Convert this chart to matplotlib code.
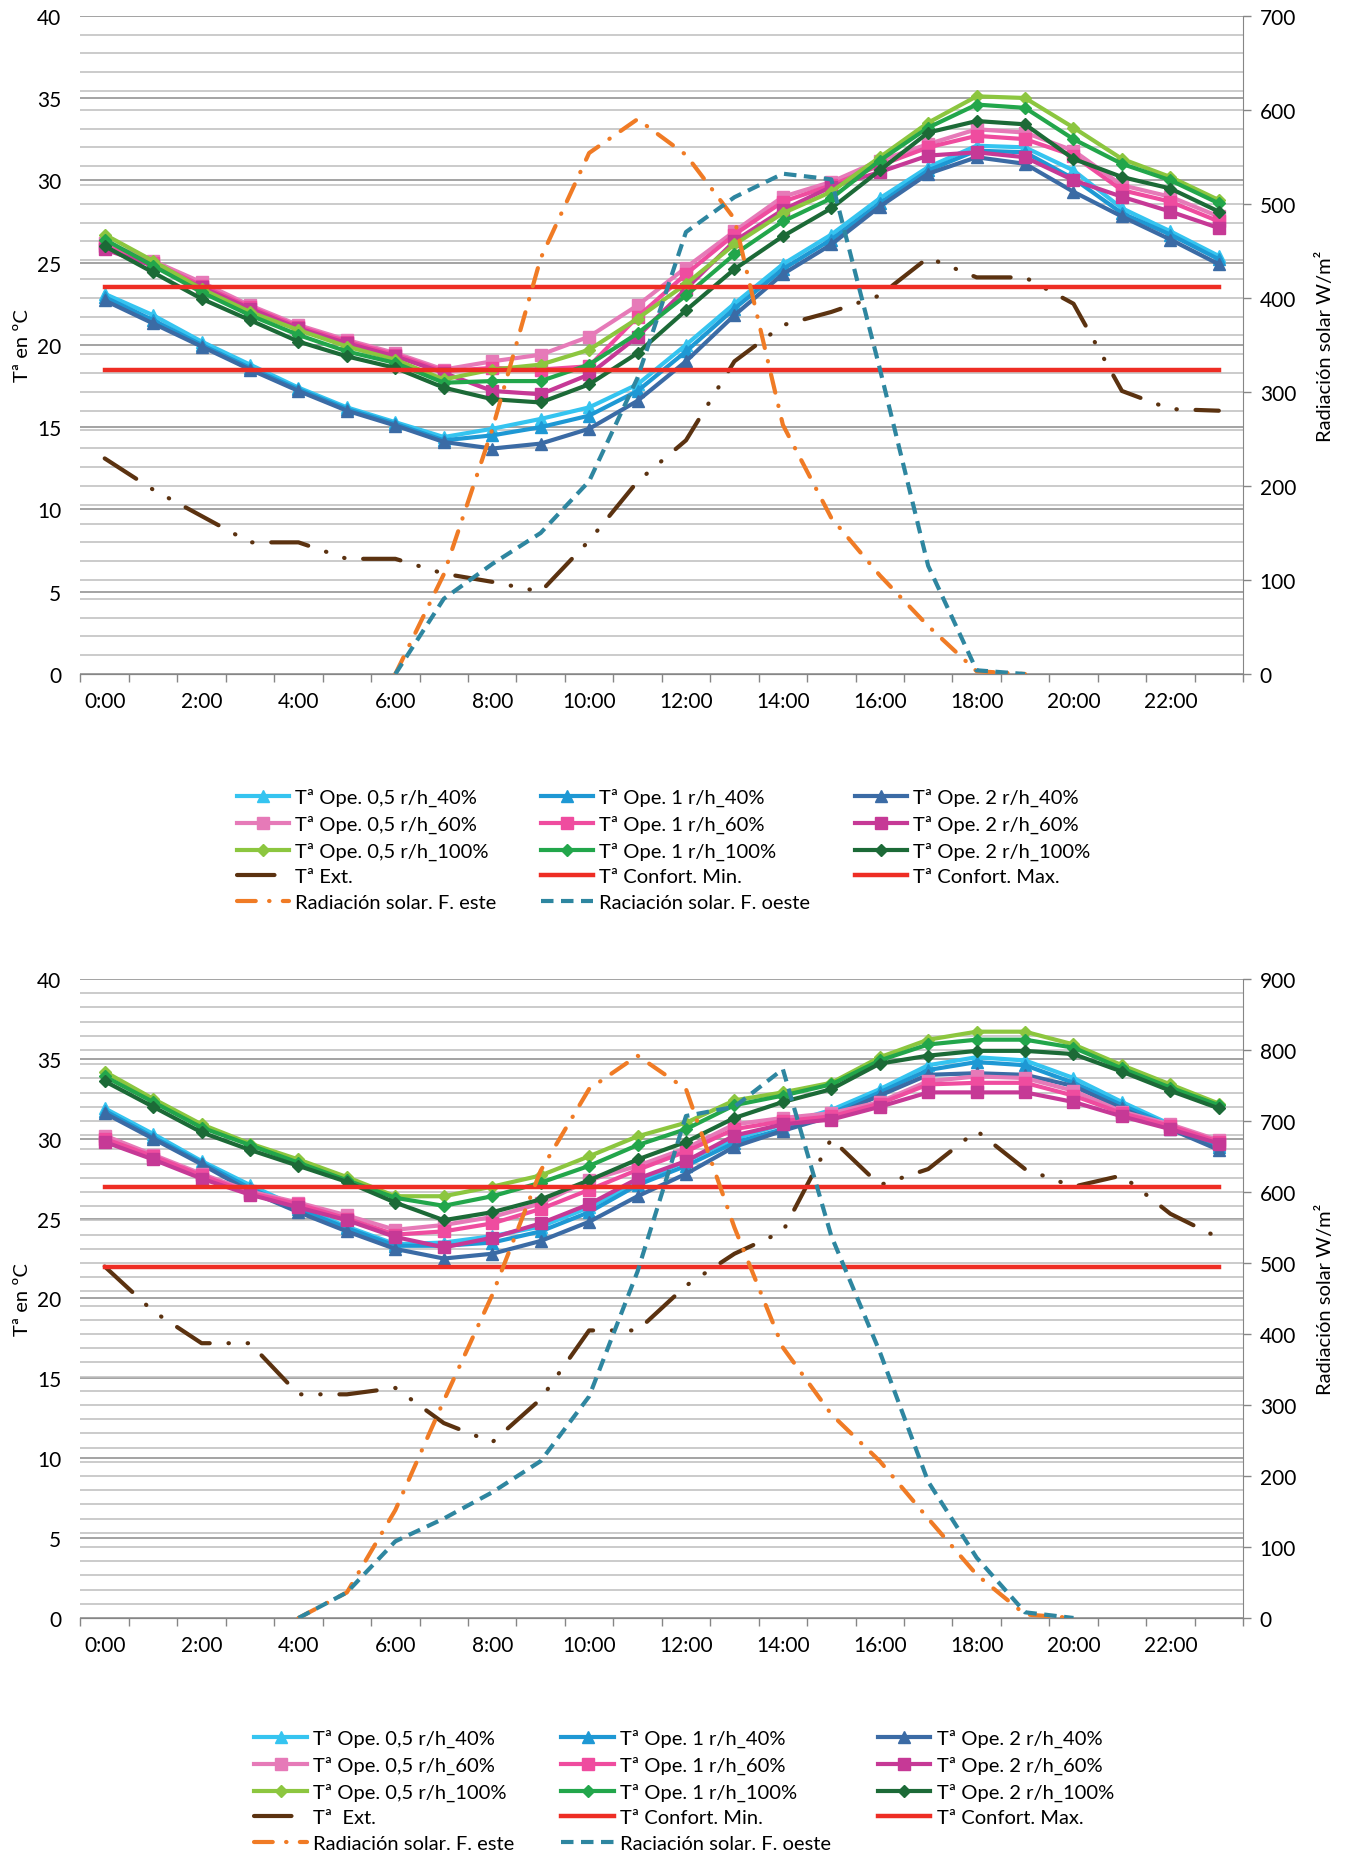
import numpy as np
import matplotlib
matplotlib.use('Agg')
import matplotlib.pyplot as plt

plt.rcParams['font.family'] = ['Lato', 'DejaVu Sans']

# --- datos ---
horas = [f'{h}:00' for h in range(24)]

# grafica superior
sup_05_40 = [23.1, 21.8, 20.2, 18.8, 17.4, 16.2, 15.3, 14.4, 14.9, 15.5, 16.2, 17.6, 20.0, 22.5, 24.9, 26.7, 28.9, 30.8, 32.1, 32.0, 30.6, 28.3, 26.9, 25.4]
sup_1_40 = [22.9, 21.5, 20.0, 18.6, 17.3, 16.1, 15.2, 14.2, 14.5, 15.0, 15.7, 17.2, 19.6, 22.2, 24.6, 26.4, 28.6, 30.6, 31.8, 31.7, 30.1, 28.0, 26.7, 25.2]
sup_2_40 = [22.7, 21.3, 19.9, 18.5, 17.2, 16.0, 15.1, 14.1, 13.7, 14.0, 14.9, 16.6, 19.0, 21.8, 24.3, 26.1, 28.4, 30.4, 31.4, 31.0, 29.3, 27.8, 26.4, 24.9]
sup_05_60 = [26.2, 25.1, 23.8, 22.4, 21.2, 20.3, 19.5, 18.5, 19.0, 19.4, 20.5, 22.4, 24.7, 26.9, 29.0, 29.9, 31.2, 32.2, 33.1, 32.9, 31.8, 29.7, 29.0, 27.8]
sup_1_60 = [26.0, 25.0, 23.6, 22.3, 21.1, 20.2, 19.4, 18.4, 18.6, 18.5, 18.7, 21.7, 24.3, 26.7, 28.7, 29.7, 30.9, 32.0, 32.7, 32.5, 31.5, 29.4, 28.7, 27.5]
sup_2_60 = [25.8, 24.8, 23.5, 22.2, 21.0, 20.1, 19.3, 18.3, 17.2, 17.0, 18.2, 20.5, 23.4, 26.3, 28.2, 29.6, 30.5, 31.5, 31.7, 31.4, 30.0, 29.0, 28.1, 27.1]
sup_05_100 = [26.7, 25.1, 23.4, 22.0, 20.9, 19.9, 19.1, 17.9, 18.5, 18.8, 19.7, 21.6, 23.7, 26.1, 28.0, 29.3, 31.4, 33.5, 35.1, 35.0, 33.2, 31.3, 30.2, 28.8]
sup_1_100 = [26.4, 24.8, 23.2, 21.8, 20.6, 19.6, 18.9, 17.7, 17.8, 17.8, 18.8, 20.7, 23.0, 25.5, 27.5, 28.9, 31.2, 33.2, 34.6, 34.4, 32.5, 31.0, 30.0, 28.6]
sup_2_100 = [26.0, 24.4, 22.8, 21.5, 20.2, 19.3, 18.6, 17.4, 16.7, 16.5, 17.6, 19.5, 22.1, 24.6, 26.6, 28.3, 30.6, 32.9, 33.6, 33.4, 31.3, 30.2, 29.5, 28.1]
sup_ext = [13.1, 11.2, 9.6, 8.0, 8.0, 7.0, 7.0, 6.1, 5.6, 5.0, 8.1, 11.7, 14.2, 19.0, 21.2, 22.0, 23.0, 25.3, 24.1, 24.1, 22.5, 17.2, 16.1, 16.0]
sup_min, sup_max = 18.5, 23.5
sup_este = [None] * 6 + [0, 106, 260, 442, 554, 590, 552, 484, 265, 166, 105, 51, 3, 0] + [None] * 4
sup_oeste = [None] * 6 + [0, 80, 117, 150, 205, 315, 470, 507, 532, 526, 325, 115, 4, 0] + [None] * 4

# grafica inferior
inf_05_40 = [31.9, 30.3, 28.6, 27.1, 25.7, 24.5, 23.4, 23.5, 23.9, 24.5, 25.7, 27.3, 28.6, 30.0, 30.9, 31.8, 33.1, 34.6, 35.1, 34.9, 33.8, 32.3, 30.9, 29.6]
inf_1_40 = [31.75, 30.1, 28.5, 26.9, 25.6, 24.4, 23.3, 23.3, 23.5, 24.2, 25.4, 27.1, 28.3, 29.75, 30.6, 31.6, 32.9, 34.3, 34.8, 34.6, 33.5, 32.1, 30.8, 29.5]
inf_2_40 = [31.6, 30.0, 28.4, 26.7, 25.4, 24.2, 23.1, 22.5, 22.8, 23.6, 24.8, 26.4, 27.8, 29.5, 30.5, 31.4, 32.7, 34.0, 34.1, 34.0, 33.3, 31.9, 30.6, 29.3]
inf_05_60 = [30.2, 29.0, 27.8, 26.7, 26.0, 25.2, 24.3, 24.6, 25.1, 25.95, 27.4, 28.3, 29.4, 30.9, 31.3, 31.6, 32.3, 33.6, 33.9, 33.8, 33.0, 31.7, 30.9, 29.9]
inf_1_60 = [30.0, 28.9, 27.7, 26.6, 25.9, 25.0, 24.0, 24.2, 24.7, 25.6, 26.8, 28.05, 29.2, 30.6, 31.1, 31.4, 32.2, 33.4, 33.5, 33.5, 32.7, 31.6, 30.8, 29.8]
inf_2_60 = [29.8, 28.7, 27.5, 26.5, 25.7, 24.9, 23.85, 23.2, 23.8, 24.7, 25.9, 27.5, 28.6, 30.2, 30.9, 31.2, 32.0, 32.9, 32.9, 32.9, 32.3, 31.4, 30.6, 29.7]
inf_05_100 = [34.2, 32.5, 30.9, 29.7, 28.7, 27.6, 26.4, 26.4, 27.0, 27.7, 28.9, 30.15, 31.0, 32.4, 32.9, 33.5, 35.1, 36.2, 36.7, 36.7, 35.9, 34.6, 33.4, 32.2]
inf_1_100 = [33.9, 32.3, 30.7, 29.6, 28.5, 27.4, 26.3, 25.8, 26.4, 27.25, 28.3, 29.6, 30.6, 32.1, 32.7, 33.4, 34.9, 35.9, 36.2, 36.2, 35.7, 34.4, 33.2, 32.1]
inf_2_100 = [33.6, 32.0, 30.4, 29.3, 28.3, 27.3, 26.0, 24.9, 25.4, 26.2, 27.4, 28.7, 29.8, 31.3, 32.3, 33.1, 34.7, 35.2, 35.5, 35.5, 35.3, 34.2, 33.0, 31.9]
inf_ext = [22.0, 19.2, 17.2, 17.2, 14.0, 14.0, 14.4, 12.2, 11.0, 13.7, 18.0, 18.0, 20.8, 22.8, 24.2, 30.0, 27.1, 28.1, 30.5, 28.1, 27.0, 27.7, 25.3, 23.8]
inf_min, inf_max = 22.0, 27.0
inf_este = [None] * 4 + [0, 36, 152, 306, 455, 630, 745, 792, 745, 550, 381, 287, 221, 140, 61, 5, 0] + [None] * 3
inf_oeste = [None] * 4 + [0, 36, 108, 140, 177, 221, 312, 488, 707, 720, 773, 538, 375, 192, 85, 8, 0] + [None] * 3

# estilos de las series de temperatura operativa
estilos = [
    ('Tª Ope. 0,5 r/h_40%', '#35c4f0', '^', 9),
    ('Tª Ope. 1 r/h_40%', '#1e98d4', '^', 9),
    ('Tª Ope. 2 r/h_40%', '#3b6ba5', '^', 9),
    ('Tª Ope. 0,5 r/h_60%', '#e67ab8', 's', 9),
    ('Tª Ope. 1 r/h_60%', '#ef4c9f', 's', 9),
    ('Tª Ope. 2 r/h_60%', '#c63996', 's', 9),
    ('Tª Ope. 0,5 r/h_100%', '#8cc63f', 'D', 6),
    ('Tª Ope. 1 r/h_100%', '#22a64b', 'D', 6),
    ('Tª Ope. 2 r/h_100%', '#1c6a37', 'D', 6),
]

fig = plt.figure(figsize=(13.46, 18.56), dpi=100)


def dibujar(rect, temps, ext, ext_label, tmin, tmax, este, oeste, rad_max, leg_pos, colsp):
    x = np.arange(24)
    ax = fig.add_axes(rect)
    ax2 = ax.twinx()

    # rejilla
    ax.set_ylim(0, 40)
    ax.set_xlim(-0.5, 23.5)
    ax.set_yticks(np.arange(0, 41, 5))
    ax.set_yticks(np.linspace(0, 40, rad_max // 20 + 1), minor=True)
    ax.grid(True, which='minor', axis='y', color='#bdbdbd', lw=1.1)
    ax.grid(True, which='major', axis='y', color='#8a8a8a', lw=1.1)
    ax.set_axisbelow(True)

    lineas = []
    for (lab, col, mk, ms), y in zip(estilos, temps):
        l, = ax.plot(x, y, color=col, lw=3, marker=mk, ms=ms, mec=col, mfc=col, label=lab, zorder=3)
        lineas.append(l)
    l, = ax.plot(x, ext, color='#5b3210', lw=3, label=ext_label, zorder=3,
                 dashes=(9, 4.5, 0.1, 4.5, 0.1, 4.5), dash_capstyle='round')
    lineas.append(l)
    l, = ax.plot(x, [tmin] * 24, color='#ee2d24', lw=3.2, label='Tª Confort. Min.', zorder=4)
    lineas.append(l)
    l, = ax.plot(x, [tmax] * 24, color='#ee2d24', lw=3.2, label='Tª Confort. Max.', zorder=4)
    lineas.append(l)

    l, = ax2.plot(x, np.array(este, dtype=float), color='#f07b25', lw=3, label='Radiación solar. F. este',
                  dashes=(4.5, 3.2, 0.1, 3.2), dash_capstyle='round')
    lineas.append(l)
    l, = ax2.plot(x, np.array(oeste, dtype=float), color='#2e86a0', lw=3, label='Raciación solar. F. oeste',
                  dashes=(3.0, 1.8))
    lineas.append(l)
    ax2.set_ylim(0, rad_max)
    ax2.set_yticks(np.arange(0, rad_max + 1, 100))

    # ejes
    ax.set_xticks(x[::2])
    ax.set_xticklabels(horas[::2])
    ax.set_xticks(np.arange(-0.5, 24, 1), minor=True)
    ax.tick_params(axis='x', which='major', length=0, pad=12, labelsize=15)
    ax.tick_params(axis='x', which='minor', length=6, width=1, color='#868686', direction='out')
    ax.tick_params(axis='y', which='both', length=0, pad=14, labelsize=15)
    ax2.tick_params(axis='y', length=6, width=1, color='#868686', pad=6, labelsize=15)
    for a in (ax, ax2):
        a.spines['top'].set_visible(False)
        a.spines['left'].set_visible(False)
        a.spines['bottom'].set_color('#868686')
        a.spines['right'].set_color('#868686')
    ax.spines['right'].set_visible(False)

    ax.set_ylabel('Tª en ºC', fontsize=14.5)
    ax.yaxis.set_label_coords(-0.043, 0.5)
    ax2.set_ylabel('Radiación solar W/m²', fontsize=14.5)
    ax2.yaxis.set_label_coords(1.063, 0.5)

    # leyenda en filas: matplotlib llena por columnas
    orden = [0, 3, 6, 9, 12, 1, 4, 7, 10, 13, 2, 5, 8, 11]
    ax2.legend(handles=[lineas[i] for i in orden], ncol=3, loc='upper left', bbox_to_anchor=leg_pos,
               bbox_transform=fig.transFigure, frameon=False, fontsize=14.5,
               handlelength=2.6, handletextpad=0.3, columnspacing=colsp,
               labelspacing=0.42, borderpad=0, borderaxespad=0)


dibujar([0.0598, 0.6363, 0.8637, 0.3547],
        [sup_05_40, sup_1_40, sup_2_40, sup_05_60, sup_1_60, sup_2_60, sup_05_100, sup_1_100, sup_2_100],
        sup_ext, 'Tª Ext.', sup_min, sup_max, sup_este, sup_oeste, 700, (0.176, 0.5748), 2.2)

dibujar([0.0598, 0.1277, 0.8637, 0.3443],
        [inf_05_40, inf_1_40, inf_2_40, inf_05_60, inf_1_60, inf_2_60, inf_05_100, inf_1_100, inf_2_100],
        inf_ext, 'Tª  Ext.', inf_min, inf_max, inf_este, inf_oeste, 900, (0.189, 0.0678), 2.35)

fig.savefig('out.png', dpi=100)
